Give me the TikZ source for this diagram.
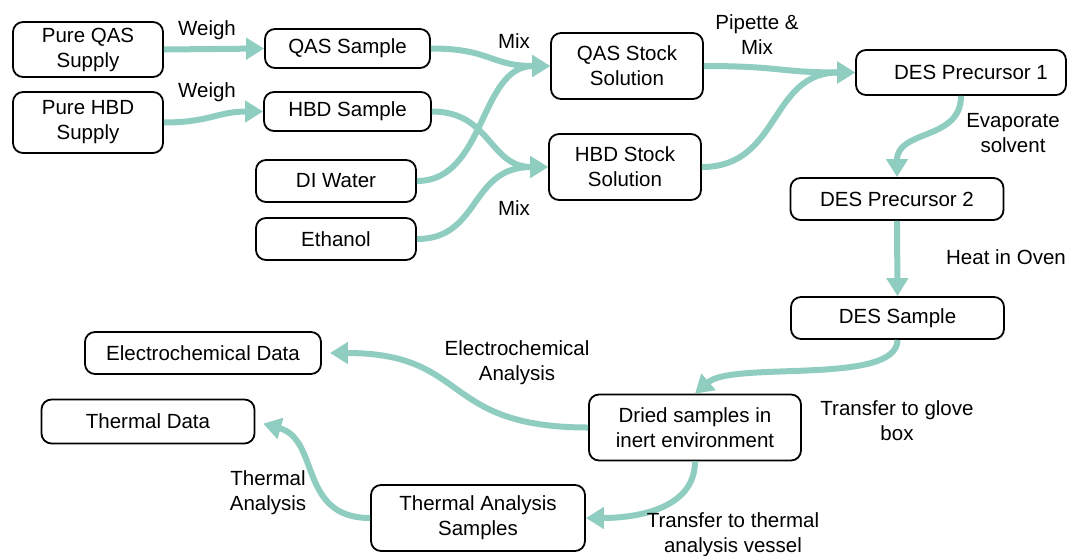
\documentclass[tikz,border=0pt]{standalone}
\usepackage{fontspec}
\setmainfont{Liberation Sans}
\usetikzlibrary{arrows.meta}
\definecolor{flow}{RGB}{143,205,193}
\begin{document}
\begin{tikzpicture}[x=1pt,y=-1pt,
  box/.style={draw=black, line width=1.8pt, rounded corners=10pt, fill=white,
    align=center, inner sep=0pt, font=\fontsize{20.5}{25}\selectfont},
  lbl/.style={align=center, inner sep=0pt, font=\fontsize{20.5}{25}\selectfont},
  flowarrow/.style={draw=flow, line width=6pt, -{Triangle[length=18pt,width=21pt]}},
]
\useasboundingbox (0,0) rectangle (1068,555);

% boxes
\node[box, minimum width=150pt, minimum height=55pt] (pqas) at (88,49.5) {Pure QAS\\Supply};
\node[box, minimum width=150pt, minimum height=61pt] (phbd) at (88,122.5) {Pure HBD\\Supply};
\node[box, minimum width=165pt, minimum height=39pt] (qass) at (347.5,48.5) {QAS Sample};
\node[box, minimum width=167pt, minimum height=39pt] (hbds) at (347.5,111.5) {HBD Sample};
\node[box, minimum width=160pt, minimum height=42pt] (diw) at (336,181) {DI Water};
\node[box, minimum width=160pt, minimum height=42pt] (eth) at (336,239) {Ethanol};
\node[box, minimum width=152pt, minimum height=66pt] (qasst) at (627,66) {QAS Stock\\Solution};
\node[box, minimum width=152pt, minimum height=66pt] (hbdst) at (625,167) {HBD Stock\\Solution};
\node[box, minimum width=210pt, minimum height=45pt] (desp1) at (961,72.5) {\hspace{20pt}DES Precursor 1};
\node[box, minimum width=213pt, minimum height=42pt] (desp2) at (897,199) {DES Precursor 2};
\node[box, minimum width=213pt, minimum height=42pt] (dess) at (897.5,318) {DES Sample};
\node[box, minimum width=236pt, minimum height=42pt] (ecd) at (203,353) {Electrochemical Data};
\node[box, minimum width=213pt, minimum height=44pt] (thd) at (148,421.5) {Thermal Data};
\node[box, minimum width=212pt, minimum height=66pt] (dried) at (695,427.5) {Dried samples in\\inert environment};
\node[box, minimum width=214pt, minimum height=66pt] (tas) at (478,518) {Thermal Analysis\\Samples};

% connectors
\draw[flowarrow] (pqas.east) -- (qass.west);
\draw[flowarrow] (phbd.east) .. controls +(45,0) and +(-45,0) .. (hbds.west);
\draw[flowarrow] (qass.east) .. controls +(60,0) and +(-60,0) .. (qasst.west);
\draw[flowarrow] (diw.east) .. controls +(69,0) and +(-71,0) .. (qasst.west);
\draw[flowarrow] (hbds.east) .. controls +(59,0) and +(-59,0) .. (hbdst.west);
\draw[flowarrow] (eth.east) .. controls +(64,0) and +(-79,0) .. (hbdst.west);
\draw[flowarrow] (qasst.east) .. controls +(77,0) and +(-76,0) .. (desp1.west);
\draw[flowarrow] (hbdst.east) .. controls +(79,0) and +(-86,0) .. (desp1.west);
\draw[flowarrow] (desp1.south) .. controls +(0,45) and +(0,-48) .. (desp2.north);
\draw[flowarrow] (desp2.south) -- (dess.north);
\draw[flowarrow] (dess.south) .. controls +(0,46) and +(38,-33) .. (dried.north);
\draw[flowarrow, shorten >=8pt] (dried.west) .. controls +(-149,0) and +(149,0) .. (ecd.east);
\draw[flowarrow] (dried.south) .. controls +(0,49) and +(47,0) .. (tas.east);
\draw[flowarrow, shorten >=8pt] (tas.west) .. controls +(-72,0) and +(65,18) .. (thd.east);

% labels
\node[lbl] (lw1) at (207,30) {Weigh};
\node[lbl] (lw2) at (207,92) {Weigh};
\node[lbl] (lm1) at (514,41) {Mix};
\node[lbl] (lm2) at (514,208) {Mix};
\node[lbl] (lpip) at (757,35) {Pipette \&\\Mix};
\node[lbl] (levap) at (1013,133) {Evaporate\\solvent};
\node[lbl] (lheat) at (1006,257) {Heat in Oven};
\node[lbl] (lelec) at (517,363) {Electrochemical\\Analysis};
\node[lbl] (lglove) at (897,421) {Transfer to glove\\box};
\node[lbl] (ltherm) at (268,493) {Thermal\\Analysis};
\node[lbl] (lvessel) at (733,535) {Transfer to thermal\\analysis vessel};
\end{tikzpicture}
\end{document}
